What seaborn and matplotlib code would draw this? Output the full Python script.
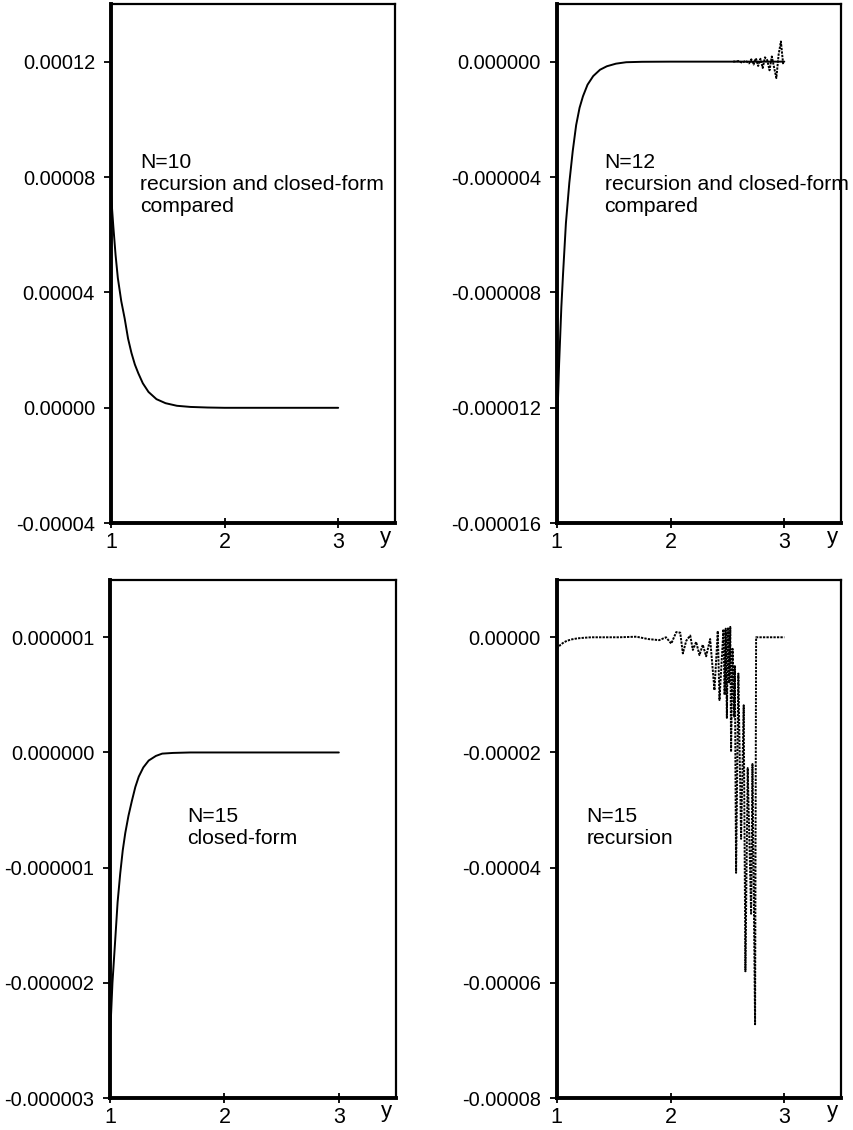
import matplotlib
matplotlib.use("Agg")
import matplotlib.pyplot as plt
import seaborn as sns
from matplotlib.ticker import FormatStrFormatter

# N=10, recursion and closed-form agree
n10_x = [1.00, 1.02, 1.04, 1.06, 1.09, 1.12, 1.15, 1.18, 1.21, 1.24,
         1.28, 1.33, 1.40, 1.48, 1.58, 1.70, 1.85, 2.00, 2.50, 3.00]
n10_y = [7.4e-5, 6.3e-5, 5.3e-5, 4.5e-5, 3.7e-5, 3.1e-5, 2.4e-5, 1.9e-5, 1.5e-5, 1.2e-5,
         0.85e-5, 0.55e-5, 0.30e-5, 0.16e-5, 0.07e-5, 0.03e-5, 0.01e-5, 0.0, 0.0, 0.0]

# N=12 closed-form
n12_x = [1.00, 1.02, 1.04, 1.055, 1.08, 1.11, 1.14, 1.17, 1.20, 1.23,
         1.27, 1.32, 1.38, 1.44, 1.52, 1.61, 1.75, 2.00, 2.50, 3.00]
n12_y = [-13.0e-6, -10.5e-6, -8.5e-6, -7.35e-6, -5.6e-6, -4.2e-6, -3.1e-6, -2.2e-6, -1.6e-6, -1.2e-6,
         -0.8e-6, -0.5e-6, -0.28e-6, -0.16e-6, -0.07e-6, -0.02e-6, -0.005e-6, 0.0, 0.0, 0.0]
# N=12 recursion, where it departs from closed-form
n12_rec_x = [2.55, 2.60, 2.63, 2.66, 2.69, 2.71, 2.73, 2.75, 2.77, 2.79,
             2.81, 2.83, 2.85, 2.87, 2.89, 2.91, 2.93, 2.95, 2.97, 2.99]
n12_rec_y = [0.0, 0.02e-6, -0.04e-6, 0.03e-6, -0.06e-6, 0.08e-6, -0.10e-6, 0.12e-6, -0.15e-6, 0.10e-6,
             -0.22e-6, 0.15e-6, 0.05e-6, -0.30e-6, 0.18e-6, -0.20e-6, -0.57e-6, 0.25e-6, 0.70e-6, -0.10e-6]

# N=15 closed-form
n15_x = [1.00, 1.02, 1.044, 1.065, 1.088, 1.11, 1.132, 1.16, 1.19, 1.22,
         1.25, 1.29, 1.337, 1.40, 1.455, 1.55, 1.70, 2.00, 2.50, 3.00]
n15_y = [-2.45e-6, -2.0e-6, -1.63e-6, -1.3e-6, -1.05e-6, -0.85e-6, -0.70e-6, -0.55e-6, -0.42e-6, -0.30e-6,
         -0.21e-6, -0.13e-6, -0.07e-6, -0.03e-6, -0.01e-6, -0.004e-6, 0.0, 0.0, 0.0, 0.0]

# N=15 recursion
n15_rec_x = [1.00, 1.03, 1.06, 1.09, 1.13, 1.18, 1.23, 1.30, 1.40, 1.55,
             1.70, 1.80, 1.90, 1.96, 2.006, 2.05, 2.085, 2.108, 2.138, 2.173,
             2.196, 2.225, 2.254, 2.283, 2.313, 2.348, 2.386, 2.415, 2.43, 2.465,
             2.475, 2.485, 2.495, 2.505, 2.515, 2.525, 2.532, 2.545, 2.56, 2.565,
             2.576, 2.596, 2.62, 2.643, 2.658, 2.678, 2.708, 2.72, 2.743, 2.752,
             2.80, 2.90, 3.00]
n15_rec_y = [-0.20e-5, -0.135e-5, -0.09e-5, -0.06e-5, -0.037e-5, -0.019e-5, -0.01e-5, 0.0, 0.0, 0.0,
             0.01e-5, -0.03e-5, -0.05e-5, 0.0, -0.11e-5, 0.09e-5, 0.08e-5, -0.28e-5, -0.06e-5, 0.03e-5,
             -0.22e-5, -0.08e-5, -0.31e-5, -0.13e-5, -0.33e-5, -0.03e-5, -0.92e-5, 0.11e-5, -1.09e-5, 0.14e-5,
             -1.0e-5, 0.15e-5, -1.4e-5, 0.17e-5, -0.8e-5, 0.18e-5, -1.99e-5, -0.2e-5, -1.38e-5, -0.5e-5,
             -4.09e-5, -0.63e-5, -3.5e-5, -1.18e-5, -5.8e-5, -2.27e-5, -4.8e-5, -2.2e-5, -6.72e-5, 0.0,
             0.0, 0.0, 0.0]

sns.set_theme(style="ticks")
plt.rcParams["font.family"] = ["Liberation Sans", "DejaVu Sans"]
plt.rcParams["text.color"] = "black"
plt.rcParams["xtick.color"] = "black"
plt.rcParams["ytick.color"] = "black"
plt.rcParams["axes.edgecolor"] = "black"

fig = plt.figure(figsize=(8.54, 11.30), dpi=100)

panels = [
    # rect, ylim, yticks, fmt, label lines, text pos
    ([0.130, 0.537, 0.3325, 0.4595], (-4e-5, 14e-5), [-4e-5, 0.0, 4e-5, 8e-5, 12e-5], "%.5f",
     ["N=10", "recursion and closed-form", "compared"], (0.102, 0.684)),
    ([0.652, 0.537, 0.333, 0.4595], (-16e-6, 2e-6), [-16e-6, -12e-6, -8e-6, -4e-6, 0.0], "%.6f",
     ["N=12", "recursion and closed-form", "compared"], (0.168, 0.684)),
    ([0.129, 0.0283, 0.3347, 0.4587], (-3e-6, 1.5e-6), [-3e-6, -2e-6, -1e-6, 0.0, 1e-6], "%.6f",
     ["N=15", "closed-form"], (0.269, 0.533)),
    ([0.652, 0.0283, 0.333, 0.4587], (-8e-5, 1e-5), [-8e-5, -6e-5, -4e-5, -2e-5, 0.0], "%.5f",
     ["N=15", "recursion"], (0.105, 0.533)),
]

axes = []
for rect, ylim, yticks, fmt, lines, (tx, ty) in panels:
    ax = fig.add_axes(rect)
    ax.set_xlim(1, 3.5)
    ax.set_ylim(*ylim)
    ax.set_xticks([1, 2, 3])
    ax.set_yticks(yticks)
    ax.yaxis.set_major_formatter(FormatStrFormatter(fmt))
    ax.tick_params(axis="y", direction="out", length=5, width=1.3, pad=6.5,
                   labelsize=14.4, colors="black")
    ax.tick_params(axis="x", direction="inout", length=7, width=1.3, pad=3,
                   labelsize=15.5, colors="black")
    for side in ["left", "bottom"]:
        ax.spines[side].set_linewidth(2.8)
    for side in ["top", "right"]:
        ax.spines[side].set_linewidth(1.6)
    ax.annotate("y", xy=(0.968, 0), xycoords="axes fraction", xytext=(0, -10),
                textcoords="offset points", ha="center", va="center", fontsize=16)
    for i, line in enumerate(lines):
        ax.text(tx, ty - i * 0.042, line, transform=ax.transAxes, fontsize=15.2,
                va="baseline", ha="left", color="black")
    axes.append(ax)

dots = (0, (1.2, 0.6))

sns.lineplot(x=n10_x, y=n10_y, ax=axes[0], color="black", linewidth=1.4)

sns.lineplot(x=n12_x, y=n12_y, ax=axes[1], color="black", linewidth=1.4)
sns.lineplot(x=n12_rec_x, y=n12_rec_y, ax=axes[1], color="black", linewidth=1.4, linestyle=dots)

sns.lineplot(x=n15_x, y=n15_y, ax=axes[2], color="black", linewidth=1.4)

sns.lineplot(x=n15_rec_x, y=n15_rec_y, ax=axes[3], color="black", linewidth=1.4, linestyle=dots)

for ax in axes:
    ax.set_xlabel("")
    ax.set_ylabel("")

fig.savefig("out.png", dpi=100)
